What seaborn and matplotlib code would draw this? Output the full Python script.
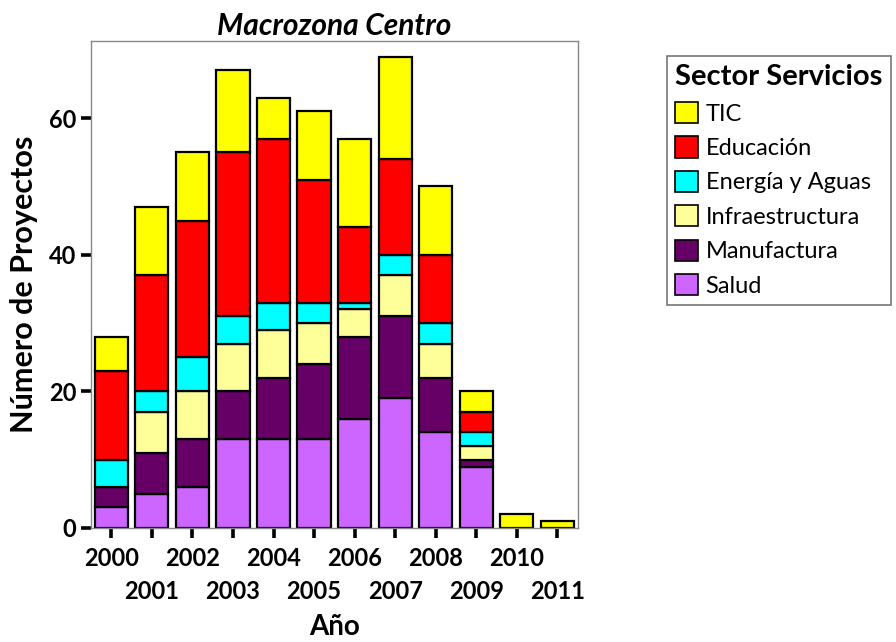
import seaborn as sns
import matplotlib.pyplot as plt
import pandas as pd
from matplotlib.patches import Patch

sns.set_style("white")
plt.rcParams['font.family'] = ['Lato', 'DejaVu Sans']
plt.rcParams.update({"text.color": "black", "axes.labelcolor": "black",
                     "xtick.color": "black", "ytick.color": "black"})

anios = list(range(2000, 2012))
sectores = ["TIC", "Educación", "Energía y Aguas", "Infraestructura", "Manufactura", "Salud"]
colores = ["#FFFF00", "#FF0000", "#00FFFF", "#FFFF99", "#660066", "#CC66FF"]

salud = [3, 5, 6, 13, 13, 13, 16, 19, 14, 9, 0, 0]
manufactura = [3, 6, 7, 7, 9, 11, 12, 12, 8, 1, 0, 0]
infraestructura = [0, 6, 7, 7, 7, 6, 4, 6, 5, 2, 0, 0]
energia = [4, 3, 5, 4, 4, 3, 1, 3, 3, 2, 0, 0]
educacion = [13, 17, 20, 24, 24, 18, 11, 14, 10, 3, 0, 0]
tic = [5, 10, 10, 12, 6, 10, 13, 15, 10, 3, 2, 1]

series = {"TIC": tic, "Educación": educacion, "Energía y Aguas": energia,
          "Infraestructura": infraestructura, "Manufactura": manufactura, "Salud": salud}

filas = []
for sector, valores in series.items():
    for anio, v in zip(anios, valores):
        if v > 0:
            filas.append({"Año": anio, "sector": sector, "n": v})
df = pd.DataFrame(filas)
paleta = dict(zip(sectores, colores))

fig, ax = plt.subplots(figsize=(8.96, 6.42), dpi=100)
fig.subplots_adjust(left=0.1016, right=0.6447, bottom=0.1776, top=0.9361)

# seaborn stacks the last hue level at the bottom
sns.histplot(data=df, x="Año", weights="n", hue="sector", hue_order=sectores,
             palette=paleta, multiple="stack", discrete=True, shrink=0.82,
             edgecolor="black", linewidth=1.6, alpha=1, legend=False, ax=ax)

ax.set_xlim(1999.5, 2011.5)
ax.set_ylim(0, 71.3)
ax.set_yticks([0, 20, 40, 60])
# even years on the first row, odd years on the second
ax.set_xticks([a for a in anios if a % 2 == 0])
ax.set_xticks([a for a in anios if a % 2 == 1], minor=True)
ax.set_xticklabels([str(a) for a in anios if a % 2 == 0])
ax.set_xticklabels([str(a) for a in anios if a % 2 == 1], minor=True)
ax.tick_params(axis="both", which="both", bottom=True, left=True, length=7.5, width=2.6,
               color="black", labelsize=17, pad=3)
ax.tick_params(axis="x", which="major", pad=6)
ax.tick_params(axis="x", which="minor", pad=30)
for lab in ax.get_xticklabels() + ax.get_xticklabels(minor=True) + ax.get_yticklabels():
    lab.set_fontweight("bold")
for sp in ax.spines.values():
    sp.set_color("#888888")
    sp.set_linewidth(1)

ax.set_title("Macrozona Centro", fontsize=21.5, fontweight="bold", fontstyle="italic", pad=4)
ax.set_xlabel("Año", fontsize=20, fontweight="bold", labelpad=8)
ax.set_ylabel("Número de Proyectos", fontsize=22, fontweight="bold", labelpad=8)

handles = [Patch(facecolor=c, edgecolor="black", linewidth=1.2) for c in colores]
leg = fig.legend(handles, sectores, title="Sector Servicios", loc="upper left",
                 bbox_to_anchor=(0.744, 0.913), borderaxespad=0, frameon=True, fancybox=False,
                 fontsize=17, title_fontproperties={"weight": "bold", "size": 21},
                 handlelength=1.0, handleheight=1.0, handletextpad=0.3,
                 labelspacing=0.5, borderpad=0.35, alignment="left")
leg.get_frame().set_edgecolor("#555555")
leg.get_frame().set_linewidth(1.2)

fig.savefig("out.png", dpi=100)
